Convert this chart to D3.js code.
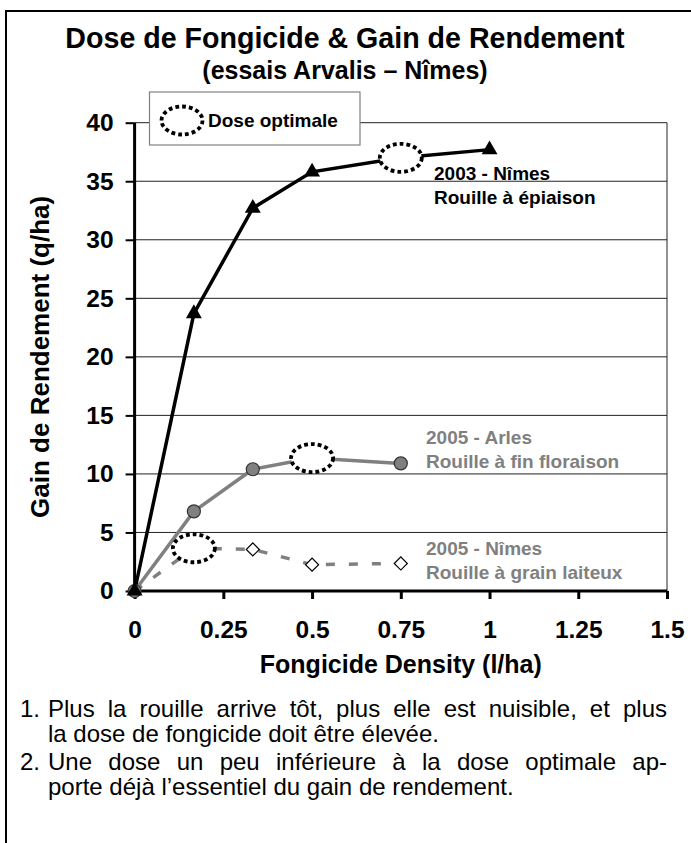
<!DOCTYPE html>
<html>
<head>
<meta charset="utf-8">
<script src="https://cdn.jsdelivr.net/npm/d3@7"></script>
<style>
  html, body { margin: 0; padding: 0; background: #fff; }
  svg { display: block; font-family: "Liberation Sans", Arial, sans-serif; }
</style>
</head>
<body>
<svg id="chart" width="691" height="843"></svg>
<script>
// ---------- data ----------
const doses = [0, 0.167, 0.333, 0.5, 0.75, 1.0];
const gain2003Nimes = [0, 23.7, 32.7, 35.8, 37.0, 37.7];
const gain2005Arles = [0, 6.8, 10.4, 11.35, 10.9];
const gain2005Nimes = [0, 3.65, 3.55, 2.25, 2.35];
const optimalDose = { s2003: 0.75, arles: 0.5, nimes05: 0.167 };
const xTicks = [0, 0.25, 0.5, 0.75, 1, 1.25, 1.5];
const xTickLabels = ["0", "0.25", "0.5", "0.75", "1", "1.25", "1.5"];
const yTicks = [0, 5, 10, 15, 20, 25, 30, 35, 40];

const title = "Dose de Fongicide & Gain de Rendement";
const subtitle = "(essais Arvalis – Nîmes)";
const xTitle = "Fongicide Density (l/ha)";
const yTitle = "Gain de Rendement (q/ha)";
const legendLabel = "Dose optimale";
const label2003 = ["2003 - Nîmes", "Rouille à épiaison"];
const labelArles = ["2005 - Arles", "Rouille à fin floraison"];
const labelNimes05 = ["2005 - Nîmes", "Rouille à grain laiteux"];
const footer = [
  { num: "1.", lines: ["Plus la rouille arrive tôt, plus elle est nuisible, et plus", "la dose de fongicide doit être élevée."] },
  { num: "2.", lines: ["Une dose un peu inférieure à la dose optimale ap-", "porte déjà l’essentiel du gain de rendement."] }
];

// ---------- layout ----------
const svg = d3.select("#chart");
const FONT = "'Liberation Sans', Arial, sans-serif";
const L = 134.6, R = 667, T = 122.7, B = 591;
const x = d3.scaleLinear().domain([0, 1.5]).range([L, R]);
const y = d3.scaleLinear().domain([0, 40]).range([B, T]);
const grey = "#808080";

// outer frame
svg.append("rect").attr("x", 6).attr("y", 11).attr("width", 720).attr("height", 900)
  .attr("fill", "none").attr("stroke", "#000").attr("stroke-width", 2);

// titles
svg.append("text").attr("x", 345).attr("y", 48).attr("text-anchor", "middle")
  .attr("font-size", 28.6).attr("font-weight", "bold").text(title);
svg.append("text").attr("x", 345).attr("y", 79).attr("text-anchor", "middle")
  .attr("font-size", 25).attr("font-weight", "bold").text(subtitle);

// gridlines
svg.append("g").selectAll("line").data(yTicks.filter(d => d > 0)).join("line")
  .attr("x1", L).attr("x2", R).attr("y1", d => y(d)).attr("y2", d => y(d))
  .attr("stroke", "#222").attr("stroke-width", 1);
// right border of plot
svg.append("line").attr("x1", R).attr("x2", R).attr("y1", T).attr("y2", B)
  .attr("stroke", "#222").attr("stroke-width", 1);

// axes
const yAxis = svg.append("g").attr("transform", `translate(${L},0)`)
  .call(d3.axisLeft(y).tickValues(yTicks).tickSize(9).tickPadding(12).tickFormat(d3.format("d")));
yAxis.select(".domain").attr("stroke", "#000").attr("stroke-width", 3).attr("d", `M0,${T}V${B}`);
yAxis.selectAll(".tick line").attr("stroke", "#000").attr("stroke-width", 2);
yAxis.selectAll(".tick text").attr("font-size", 24.5).attr("font-weight", "bold")
  .attr("font-family", FONT).attr("fill", "#000");

const xAxis = svg.append("g").attr("transform", `translate(0,${B})`)
  .call(d3.axisBottom(x).tickValues(xTicks).tickSize(8).tickPadding(13)
    .tickFormat((d, i) => xTickLabels[i]));
xAxis.select(".domain").attr("stroke", "#000").attr("stroke-width", 3).attr("d", `M${L},0H${R}`);
xAxis.selectAll(".tick line").attr("stroke", "#000").attr("stroke-width", 3);
xAxis.selectAll(".tick text").attr("font-size", 24.5).attr("font-weight", "bold")
  .attr("font-family", FONT).attr("fill", "#000")
  .attr("dy", null).attr("y", 47);

// axis titles
svg.append("text").attr("x", (L + R) / 2).attr("y", 673).attr("text-anchor", "middle")
  .attr("font-size", 25).attr("font-weight", "bold").text(xTitle);
svg.append("text").attr("transform", `translate(49,${(T + B) / 2}) rotate(-90)`)
  .attr("text-anchor", "middle").attr("font-size", 26).attr("font-weight", "bold").text(yTitle);

// ---------- series ----------
const line = d3.line().x(d => x(d[0])).y(d => y(d[1]));
const s2003 = doses.map((d, i) => [d, gain2003Nimes[i]]);
const sArles = gain2005Arles.map((v, i) => [doses[i], v]);
const sNimes = gain2005Nimes.map((v, i) => [doses[i], v]);

svg.append("path").attr("d", line(sNimes)).attr("fill", "none")
  .attr("stroke", grey).attr("stroke-width", 3.5).attr("stroke-dasharray", "9,14");
svg.append("path").attr("d", line(sArles)).attr("fill", "none")
  .attr("stroke", grey).attr("stroke-width", 3.5);
svg.append("path").attr("d", line(s2003)).attr("fill", "none")
  .attr("stroke", "#000").attr("stroke-width", 3.5);

// markers
const diamond = d3.symbol().type(d3.symbolSquare).size(85);
svg.append("g").selectAll("path").data(sNimes).join("path")
  .attr("d", diamond).attr("transform", d => `translate(${x(d[0])},${y(d[1])}) rotate(45)`)
  .attr("fill", "#fff").attr("stroke", "#000").attr("stroke-width", 1.2);
svg.append("g").selectAll("circle").data(sArles).join("circle")
  .attr("cx", d => x(d[0])).attr("cy", d => y(d[1])).attr("r", 6.5)
  .attr("fill", grey).attr("stroke", "#333").attr("stroke-width", 1.2);
const tri = d3.symbol().type(d3.symbolTriangle).size(110);
svg.append("g").selectAll("path").data(s2003).join("path")
  .attr("d", tri).attr("transform", d => `translate(${x(d[0])},${y(d[1])})`)
  .attr("fill", "#000");

// optimal dose ellipses
function ellipseAt(cx, cy) {
  svg.append("ellipse").attr("cx", cx).attr("cy", cy).attr("rx", 21).attr("ry", 14)
    .attr("fill", "#fff").attr("stroke", "#000").attr("stroke-width", 3.8)
    .attr("stroke-dasharray", "3.8,3");
}
const valAt = (xs, ys, d) => ys[xs.indexOf(d)];
ellipseAt(x(optimalDose.s2003), y(valAt(doses, gain2003Nimes, optimalDose.s2003)));
ellipseAt(x(optimalDose.arles), y(valAt(doses, gain2005Arles, optimalDose.arles)));
ellipseAt(x(optimalDose.nimes05), y(valAt(doses, gain2005Nimes, optimalDose.nimes05)));

// series labels
function label(lines, lx, ly, color) {
  lines.forEach((t, i) => svg.append("text").attr("x", lx).attr("y", ly + i * 24)
    .attr("font-size", 19).attr("font-weight", "bold").attr("fill", color).text(t));
}
label(label2003, 434, 180, "#000");
label(labelArles, 426, 444, grey);
label(labelNimes05, 426, 555, grey);

// legend
svg.append("rect").attr("x", 149.5).attr("y", 92).attr("width", 210.5).attr("height", 53)
  .attr("fill", "#fff").attr("stroke", grey).attr("stroke-width", 1.2);
svg.append("ellipse").attr("cx", 182).attr("cy", 120.5).attr("rx", 20.5).attr("ry", 14)
  .attr("fill", "#fff").attr("stroke", "#000").attr("stroke-width", 3.8).attr("stroke-dasharray", "3.8,3");
svg.append("text").attr("x", 208).attr("y", 127).attr("font-size", 19).attr("font-weight", "bold").text(legendLabel);

// footer (justified first line of each item)
const fSize = 24, numX = 20, textX = 48, textRight = 667;
const baselines = [[717, 742], [770, 795]];
footer.forEach((item, k) => {
  svg.append("text").attr("x", numX).attr("y", baselines[k][0]).attr("font-size", fSize).text(item.num);
  item.lines.forEach((t, j) => {
    const el = svg.append("text").attr("x", textX).attr("y", baselines[k][j]).attr("font-size", fSize).text(t);
    if (j === 0) {
      const w = el.node().getComputedTextLength();
      const n = (t.match(/ /g) || []).length;
      el.attr("word-spacing", Math.max(0, (textRight - textX - w) / n));
    }
  });
});
</script>
</body>
</html>
